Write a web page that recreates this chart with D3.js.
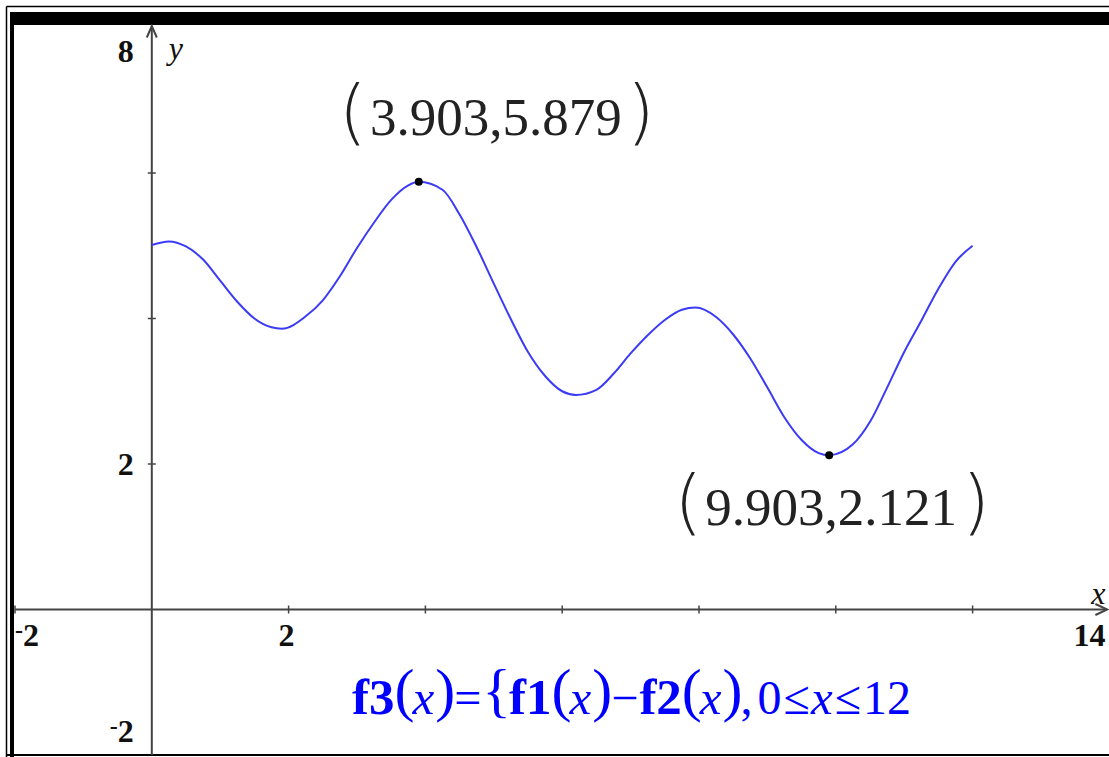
<!DOCTYPE html>
<html>
<head>
<meta charset="utf-8">
<script src="https://cdn.jsdelivr.net/npm/d3@7"></script>
<style>
  html, body { margin: 0; padding: 0; background: #fff; }
  svg { display: block; }
</style>
</head>
<body>
<svg id="chart" width="1109" height="757"></svg>
<script>
// ---- data ----
const xDomain = [-2, 14];
const yDomain = [-2, 8];
const xTicks = [-2, 2, 4, 6, 8, 10, 12];
const yTicks = [2, 4, 6];
const xTickLabels = [-2, 2, 14];
const yTickLabels = [8, 2, -2];
const curveX = [0, 0.25, 0.5, 0.75, 1.0, 1.25, 1.5, 1.75, 1.9, 2.25, 2.5, 2.75, 3.0, 3.25, 3.5, 3.75, 3.903,
  4.25, 4.5, 4.75, 5.0, 5.25, 5.5, 5.75, 6.0, 6.2, 6.5, 6.75, 7.0, 7.25, 7.5, 7.75, 7.95,
  8.25, 8.5, 8.75, 9.0, 9.25, 9.5, 9.75, 9.903, 10.25, 10.5, 10.75, 11.0, 11.25, 11.5, 11.75, 12.0];
const curveY = [5.01, 5.06, 4.99, 4.81, 4.52, 4.23, 4.00, 3.88, 3.86, 4.03, 4.25, 4.58, 4.97, 5.32, 5.63, 5.83, 5.879,
  5.77, 5.43, 4.98, 4.48, 3.99, 3.54, 3.21, 3.00, 2.95, 3.02, 3.24, 3.52, 3.77, 3.98, 4.12, 4.15,
  4.02, 3.78, 3.45, 3.05, 2.64, 2.33, 2.15, 2.121, 2.27, 2.58, 3.05, 3.54, 3.97, 4.41, 4.78, 5.00];
const pointX = [3.903, 9.903];
const pointY = [5.879, 2.121];
const pointLabels = ["3.903,5.879", "9.903,2.121"];
const formulaPieces = [
  ["f3", "b"], ["(", "p"], ["x", "i"], [")", "p"], ["=", "r"], ["{", "p"],
  ["f1", "b"], ["(", "p"], ["x", "i"], [")", "p"], ["\u2212", "r"],
  ["f2", "b"], ["(", "p"], ["x", "i"], [")", "p"], [",", "c"],
  ["0", "r"], ["\u2264", "r"], ["x", "i"], ["\u2264", "r"], ["12", "r"]
];

// ---- drawing ----
const svg = d3.select("#chart");
const W = 1109, H = 757;
const x = d3.scaleLinear().domain(xDomain).range([15, 1109.4]);
const y = d3.scaleLinear().domain(yDomain).range([755, 27.5]);
const axisColor = "#444";
const serif = "'Liberation Serif', 'Times New Roman', serif";

// frame
svg.append("rect").attr("x", 0).attr("y", 0).attr("width", W).attr("height", H).attr("fill", "#fff");
svg.append("line").attr("x1", 6.5).attr("y1", 6.5).attr("x2", W).attr("y2", 6.5).attr("stroke", "#000").attr("stroke-width", 1.5);
svg.append("line").attr("x1", 6.5).attr("y1", 6.5).attr("x2", 6.5).attr("y2", H).attr("stroke", "#000").attr("stroke-width", 1.5);
svg.append("rect").attr("x", 10).attr("y", 12).attr("width", W - 10).attr("height", 13).attr("fill", "#000");
svg.append("rect").attr("x", 10).attr("y", 12).attr("width", 4).attr("height", H - 12).attr("fill", "#000");
svg.append("line").attr("x1", 6).attr("y1", 755).attr("x2", W).attr("y2", 755).attr("stroke", "#000").attr("stroke-width", 2);

// axes
const gAxes = svg.append("g").attr("stroke", axisColor).attr("stroke-width", 2).attr("fill", "none");
const x0 = x(0), y0 = y(0);
gAxes.append("line").attr("x1", x(-2)).attr("y1", y0).attr("x2", x(14) - 3).attr("y2", y0);
gAxes.append("line").attr("x1", x0).attr("y1", y(-2)).attr("x2", x0).attr("y2", y(8) - 1);
// arrowheads
gAxes.append("path").attr("d", `M${x0 - 5},${y(8) + 10} L${x0},${y(8) - 1.5} L${x0 + 5},${y(8) + 10}`).attr("stroke-linejoin", "miter");
gAxes.append("path").attr("d", `M${x(14) - 14},${y0 - 5.5} L${x(14) - 2},${y0} L${x(14) - 14},${y0 + 5.5}`);

// ticks
gAxes.selectAll(".xt").data(xTicks).join("line")
  .attr("x1", d => x(d)).attr("x2", d => x(d)).attr("y1", y0 - 4).attr("y2", y0 + 4).attr("stroke-width", 1.5);
gAxes.selectAll(".yt").data(yTicks).join("line")
  .attr("y1", d => y(d)).attr("y2", d => y(d)).attr("x1", x0 - 4).attr("x2", x0 + 4).attr("stroke-width", 1.5);

// tick labels
function numLabel(sel, v) {
  if (v < 0) {
    sel.append("tspan").text("-").attr("font-size", 24).attr("dy", -8);
    sel.append("tspan").text(String(-v)).attr("dy", 8);
  } else {
    sel.text(String(v));
  }
}
const labStyle = s => s.attr("font-family", serif).attr("font-weight", "bold").attr("font-size", 32).attr("fill", "#111");
xTickLabels.forEach(v => {
  const t = svg.append("text").call(labStyle).attr("y", y0 + 36);
  if (v === xDomain[0]) t.attr("x", x(v)).attr("text-anchor", "start");
  else if (v === xDomain[1]) t.attr("x", x(v) - 4).attr("text-anchor", "end");
  else t.attr("x", x(v) - 2).attr("text-anchor", "middle");
  numLabel(t, v);
});
yTickLabels.forEach(v => {
  const t = svg.append("text").call(labStyle).attr("x", x0 - 18).attr("text-anchor", "end");
  if (v === yDomain[1]) t.attr("y", y(v) + 34);
  else if (v === yDomain[0]) t.attr("y", y(v) - 13);
  else t.attr("y", y(v) + 11);
  numLabel(t, v);
});
// axis names
svg.append("text").attr("font-family", serif).attr("font-style", "italic").attr("font-size", 32)
  .attr("fill", "#111").attr("x", x0 + 17).attr("y", y(8) + 31).text("y");
svg.append("text").attr("font-family", serif).attr("font-style", "italic").attr("font-size", 32)
  .attr("fill", "#111").attr("x", x(14) - 4).attr("y", y0 - 6).attr("text-anchor", "end").text("x");

// curve
const pts = curveX.map((d, i) => [d, curveY[i]]);
const line = d3.line().x(d => x(d[0])).y(d => y(d[1])).curve(d3.curveMonotoneX);
svg.append("path").datum(pts).attr("d", line).attr("fill", "none")
  .attr("stroke", "#3b3bf6").attr("stroke-width", 2).attr("stroke-linejoin", "round");

// points
svg.selectAll(".pt").data(pointX).join("circle")
  .attr("cx", d => x(d)).attr("cy", (d, i) => y(pointY[i])).attr("r", 4).attr("fill", "#000");

// point labels
const labelOffsets = [[77, -47], [2, 70]];
pointLabels.forEach((txt, i) => {
  const cx = x(pointX[i]) + labelOffsets[i][0];
  const by = y(pointY[i]) + labelOffsets[i][1];
  const t = svg.append("text").attr("font-family", serif).attr("font-size", 53).attr("fill", "#222")
    .attr("x", cx).attr("y", by).attr("text-anchor", "middle").text(txt);
  const w = t.node().getComputedTextLength();
  const pStyle = s => s.attr("font-family", "'DejaVu Sans', sans-serif").attr("font-size", 72)
    .attr("font-weight", 200).attr("fill", "#222").attr("y", by + 1);
  svg.append("text").call(pStyle).attr("x", cx - w / 2 - 3).attr("text-anchor", "end").text("(");
  svg.append("text").call(pStyle).attr("x", cx + w / 2 + 5).attr("text-anchor", "start").text(")");
});

// formula
const fStyles = {
  b: { size: 51, weight: "bold", style: "normal", dy: 0, kl: 0, kr: 0 },
  r: { size: 48, weight: "normal", style: "normal", dy: 0, kl: 1, kr: 1 },
  c: { size: 48, weight: "normal", style: "normal", dy: 0, kl: 0, kr: 4 },
  i: { size: 49, weight: "normal", style: "italic", dy: 0, kl: 0, kr: 1 },
  p: { size: 60, weight: "normal", style: "normal", dy: -4, kl: 0, kr: -2 }
};
let fx = 352;
const fy = 714;
const gF = svg.append("g").attr("fill", "#0000ff").attr("font-family", serif);
formulaPieces.forEach(([txt, k]) => {
  const s = fStyles[k];
  fx += s.kl;
  const t = gF.append("text").attr("x", fx).attr("y", fy + s.dy)
    .attr("font-size", s.size).attr("font-weight", s.weight).attr("font-style", s.style).text(txt);
  fx += t.node().getComputedTextLength() + s.kr;
});
</script>
</body>
</html>
